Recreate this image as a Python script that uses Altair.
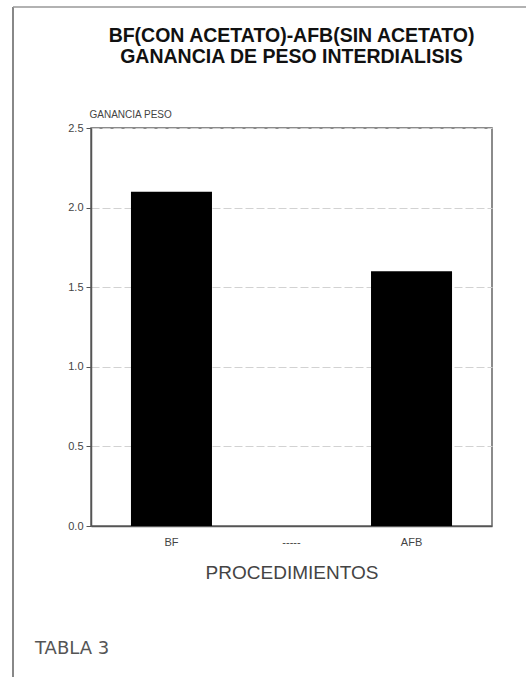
import altair as alt
import pandas as pd

# Procedures and mean interdialytic weight gain (kg)
categories = ["BF", "-----", "AFB"]
gain = [2.1, None, 1.6]
y_ticks = [0.0, 0.5, 1.0, 1.5, 2.0, 2.5]

title_lines = ["BF(CON ACETATO)-AFB(SIN ACETATO)", "GANANCIA DE PESO INTERDIALISIS"]
y_title = "GANANCIA PESO"
x_title = "PROCEDIMIENTOS"
caption = "TABLA 3"

FONT = "Liberation Sans, Arial, Helvetica, sans-serif"
WIDE = "DejaVu Sans, Liberation Sans, sans-serif"

W, H = 401, 398

df = pd.DataFrame({"proc": categories, "ganancia": gain}).dropna()

bars = alt.Chart(df).mark_bar(color="#000000").encode(
    x=alt.X(
        "proc:N",
        sort=categories,
        scale=alt.Scale(domain=categories, paddingInner=0.325, paddingOuter=0.333),
        axis=alt.Axis(
            title=x_title,
            labelAngle=0,
            ticks=False,
            domain=True,
            domainColor="#555555",
            domainWidth=1.5,
            labelPadding=10,
            labelFontSize=11,
            labelColor="#444444",
            labelFont=FONT,
            titleFont=FONT,
            titleFontSize=19,
            titleFontWeight="normal",
            titleColor="#444444",
            titleBaseline="alphabetic",
            titleY=52,
        ),
    ),
    y=alt.Y(
        "ganancia:Q",
        scale=alt.Scale(domain=[0, 2.5], nice=False),
        axis=alt.Axis(
            title=y_title,
            values=y_ticks,
            format=".1f",
            tickSize=5,
            tickColor="#555555",
            domainColor="#555555",
            domainWidth=1.5,
            labelPadding=3,
            labelFontSize=11,
            labelColor="#444444",
            labelFont=FONT,
            gridColor="#d2d2d2",
            gridDash=[8, 3],
            gridWidth=1,
            titleAngle=0,
            titleAlign="left",
            titleBaseline="alphabetic",
            titleX=-2,
            titleY=-11,
            titleFont=FONT,
            titleFontSize=10,
            titleFontWeight="normal",
            titleColor="#444444",
        ),
    ),
)

caption_layer = alt.Chart(pd.DataFrame({"t": [caption]})).mark_text(
    align="left", baseline="alphabetic", font=WIDE, fontSize=18, color="#555555"
).encode(text="t:N", x=alt.value(-56), y=alt.value(526))

frame = pd.DataFrame({"k": [0]})
left_edge = alt.Chart(frame).mark_rule(color="#888888", strokeWidth=2).encode(
    x=alt.value(-78), y=alt.value(-121), y2=alt.value(H + 151)
)
top_edge = alt.Chart(frame).mark_rule(color="#999999", strokeWidth=1.5).encode(
    y=alt.value(-121), x=alt.value(-78), x2=alt.value(W + 34)
)

chart = (
    alt.layer(bars, caption_layer, left_edge, top_edge)
    .properties(
        width=W,
        height=H,
        title=alt.TitleParams(
            text=title_lines,
            font=FONT,
            fontSize=19.5,
            fontWeight="bold",
            color="#111111",
            anchor="middle",
            frame="group",
            baseline="alphabetic",
            lineHeight=21,
            offset=-76,
        ),
        autosize=alt.AutoSizeParams(type="none"),
        padding={"left": 91, "top": 128, "right": 34, "bottom": 151},
    )
    .configure_view(stroke="#666666", strokeWidth=1.5)
)

chart.save("out.html", embed_options={"renderer": "svg", "actions": False})
